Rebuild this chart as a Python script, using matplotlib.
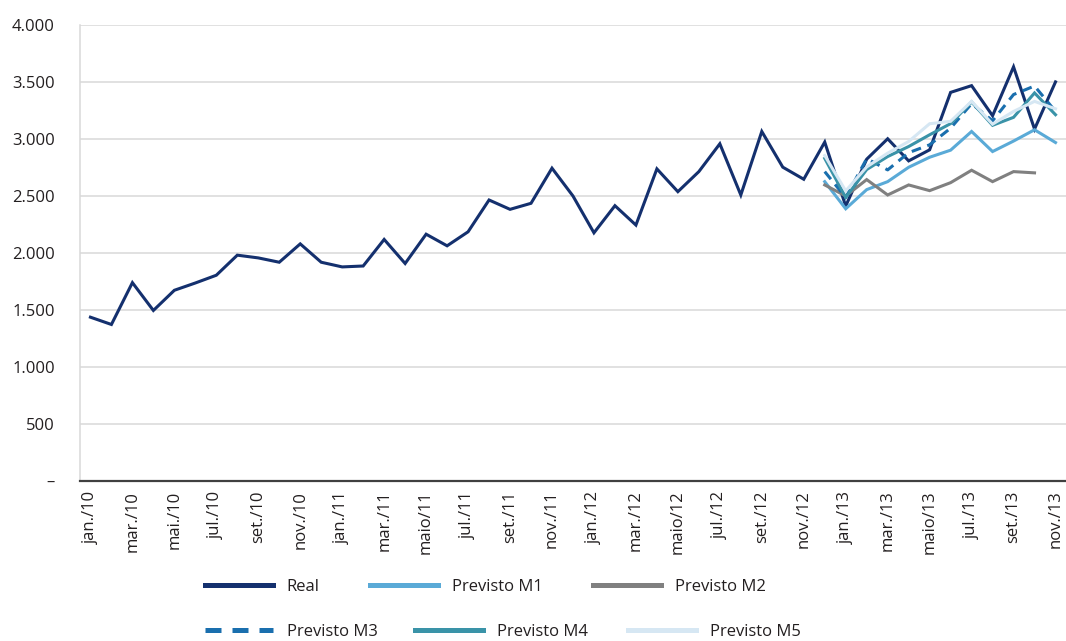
import numpy as np
import matplotlib
matplotlib.use("Agg")
import matplotlib.pyplot as plt

plt.rcParams['font.family'] = ['Open Sans', 'DejaVu Sans']

# monthly series jan/10 .. nov/13
tick_labels = ['jan./10', 'mar./10', 'mai./10', 'jul./10', 'set./10', 'nov./10',
               'jan./11', 'mar./11', 'maio/11', 'jul./11', 'set./11', 'nov./11',
               'jan./12', 'mar./12', 'maio/12', 'jul./12', 'set./12', 'nov./12',
               'jan./13', 'mar./13', 'maio/13', 'jul./13', 'set./13', 'nov./13']

real = [1437, 1373, 1740, 1496, 1673, 1737, 1805, 1981, 1957, 1919, 2080, 1919,
        1878, 1886, 2119, 1908, 2165, 2063, 2186, 2465, 2383, 2436, 2744, 2500,
        2177, 2415, 2245, 2738, 2538, 2714, 2958, 2509, 3066, 2753, 2647, 2973,
        2412, 2823, 3002, 2808, 2905, 3409, 3468, 3204, 3633, 3087, 3501]

# forecasts start at dez/12
forecast_start = 35
m1 = [2626, 2388, 2556, 2626, 2752, 2840, 2902, 3066, 2890, 2982, 3081, 2969]
m2 = [2597, 2500, 2644, 2509, 2597, 2547, 2617, 2726, 2626, 2714, 2703]
m3 = [2714, 2486, 2828, 2729, 2880, 2949, 3095, 3310, 3160, 3390, 3465, 3242]
m4 = [2830, 2488, 2732, 2846, 2934, 3037, 3135, 3325, 3120, 3190, 3404, 3213]
m5 = [2855, 2545, 2755, 2876, 2978, 3134, 3155, 3330, 3130, 3242, 3330, 3265]

names = ['Real', 'Previsto M1', 'Previsto M2', 'Previsto M3', 'Previsto M4', 'Previsto M5']
colors = ['#14306e', '#5aaad7', '#808080', '#1a6fae', '#3a93a8', '#d6e7f3']

fig = plt.figure(figsize=(10.66, 6.41), dpi=100)
ax = fig.add_axes([0.075, 0.2496, 0.925, 0.7114])

lines = []
x_real = np.arange(len(real))
l, = ax.plot(x_real, real, color=colors[0], lw=2.2, solid_joinstyle='miter')
lines.append(l)
for i, vals in enumerate([m1, m2, m3, m4, m5]):
    xs = np.arange(forecast_start, forecast_start + len(vals))
    ls = (0, (3.2, 2.2)) if i == 2 else '-'
    l, = ax.plot(xs, vals, color=colors[i + 1], lw=2.2, linestyle=ls,
                 solid_joinstyle='miter')
    lines.append(l)

ax.set_xlim(-0.5, len(real) - 0.5)
ax.set_ylim(0, 4000)
yt = np.arange(0, 4001, 500)
ax.set_yticks(yt)
ax.set_yticklabels(['–'] + ['{:,}'.format(v).replace(',', '.') for v in yt[1:]])
ax.set_xticks(np.arange(0, len(real), 2))
ax.set_xticklabels(tick_labels, rotation=90, va='top', ha='center')

ax.tick_params(axis='y', length=0, pad=18, labelsize=12, labelcolor='#231f20')
ax.tick_params(axis='x', length=0, pad=7, labelsize=12, labelcolor='#231f20')
ax.grid(axis='y', color='#d9d9d9', lw=1.1)
ax.set_axisbelow(True)
for s in ['top', 'right']:
    ax.spines[s].set_visible(False)
ax.spines['left'].set_color('#d9d9d9')
ax.spines['left'].set_linewidth(1.1)
ax.spines['bottom'].set_color('#404040')
ax.spines['bottom'].set_linewidth(1.6)

# legend entries placed like the original (two staggered rows)
leg_pos = [(205, 587), (370, 587), (593, 587), (205, 632), (415, 632), (628, 632)]
W, H = 1066, 641
for line, name, (px, py) in zip(lines, names, leg_pos):
    leg = fig.legend([line], [name], loc='center left',
                     bbox_to_anchor=(px / W, 1 - py / H), frameon=False,
                     borderpad=0, borderaxespad=0, handlelength=4.1,
                     handletextpad=0.8, fontsize=12)
    for h in leg.get_lines():
        h.set_linewidth(3.6)
    for t in leg.get_texts():
        t.set_color('#231f20')

fig.savefig('out.png', dpi=100)
